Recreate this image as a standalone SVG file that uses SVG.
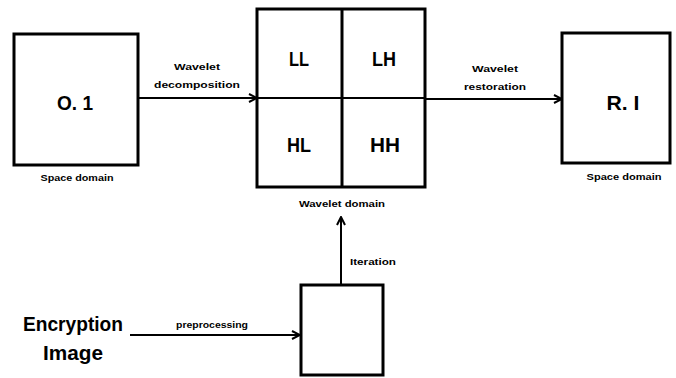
<svg xmlns="http://www.w3.org/2000/svg" width="676" height="378" viewBox="0 0 676 378">
<style>
.box{fill:#fff;stroke:#000;stroke-width:3}
.big{font-family:"Liberation Sans",Arial,sans-serif;font-size:21px;font-weight:bold;text-anchor:middle;fill:#000}
.sm{font-family:"Liberation Sans",Arial,sans-serif;font-size:9px;font-weight:bold;text-anchor:middle;fill:#000}
.ln{stroke:#000;stroke-width:2;fill:none;marker-end:url(#ah)}
</style>
<defs>
<marker id="ah" viewBox="0 0 10 10" refX="9" refY="5" markerWidth="5" markerHeight="5" orient="auto" markerUnits="strokeWidth">
<path d="M1,1 L9,5 L1,9" fill="none" stroke="#000" stroke-width="2"/>
</marker>
</defs>
<rect width="676" height="378" fill="#fff"/>
<g id="connectors">
<line class="ln" x1="138" y1="98" x2="257" y2="98"/>
<line class="ln" x1="425" y1="99" x2="562" y2="99"/>
<line class="ln" x1="341" y1="284" x2="341" y2="217"/>
<line class="ln" x1="130" y1="335" x2="300" y2="335"/>
<text class="sm" x="197" y="70" textLength="46" lengthAdjust="spacingAndGlyphs">Wavelet</text>
<text class="sm" x="197" y="88" textLength="86" lengthAdjust="spacingAndGlyphs">decomposition</text>
<text class="sm" x="495" y="72" textLength="46" lengthAdjust="spacingAndGlyphs">Wavelet</text>
<text class="sm" x="495" y="90" textLength="62" lengthAdjust="spacingAndGlyphs">restoration</text>
<text class="sm" x="373" y="265" textLength="46" lengthAdjust="spacingAndGlyphs">Iteration</text>
<text class="sm" x="212" y="328" textLength="72" lengthAdjust="spacingAndGlyphs">preprocessing</text>
</g>
<g id="original">
<rect class="box" x="14" y="34" width="124" height="131"/>
<text class="big" x="75" y="110" textLength="36" lengthAdjust="spacingAndGlyphs">O. 1</text>
<text class="sm" x="77" y="181" textLength="73" lengthAdjust="spacingAndGlyphs">Space domain</text>
</g>
<g id="wavelet">
<rect class="box" x="257" y="9" width="168" height="178"/>
<line x1="342" y1="9" x2="342" y2="187" stroke="#000" stroke-width="3"/>
<line x1="257" y1="98" x2="425" y2="98" stroke="#000" stroke-width="2"/>
<text class="big" x="299" y="66" textLength="20" lengthAdjust="spacingAndGlyphs">LL</text>
<text class="big" x="384" y="66" textLength="24" lengthAdjust="spacingAndGlyphs">LH</text>
<text class="big" x="299" y="152" textLength="24" lengthAdjust="spacingAndGlyphs">HL</text>
<text class="big" x="385" y="152" textLength="30" lengthAdjust="spacingAndGlyphs">HH</text>
<text class="sm" x="342" y="207" textLength="86" lengthAdjust="spacingAndGlyphs">Wavelet domain</text>
</g>
<g id="restored">
<rect class="box" x="562" y="33" width="108" height="130"/>
<text class="big" x="623" y="110" textLength="33" lengthAdjust="spacingAndGlyphs">R. I</text>
<text class="sm" x="624" y="180" textLength="75" lengthAdjust="spacingAndGlyphs">Space domain</text>
</g>
<g id="encryption">
<text class="big" x="73" y="331" font-size="23" textLength="100" lengthAdjust="spacingAndGlyphs">Encryption</text>
<text class="big" x="73" y="360" font-size="23" textLength="60" lengthAdjust="spacingAndGlyphs">Image</text>
</g>
<g id="process">
<rect class="box" x="301" y="285" width="82" height="90"/>
</g>
</svg>
